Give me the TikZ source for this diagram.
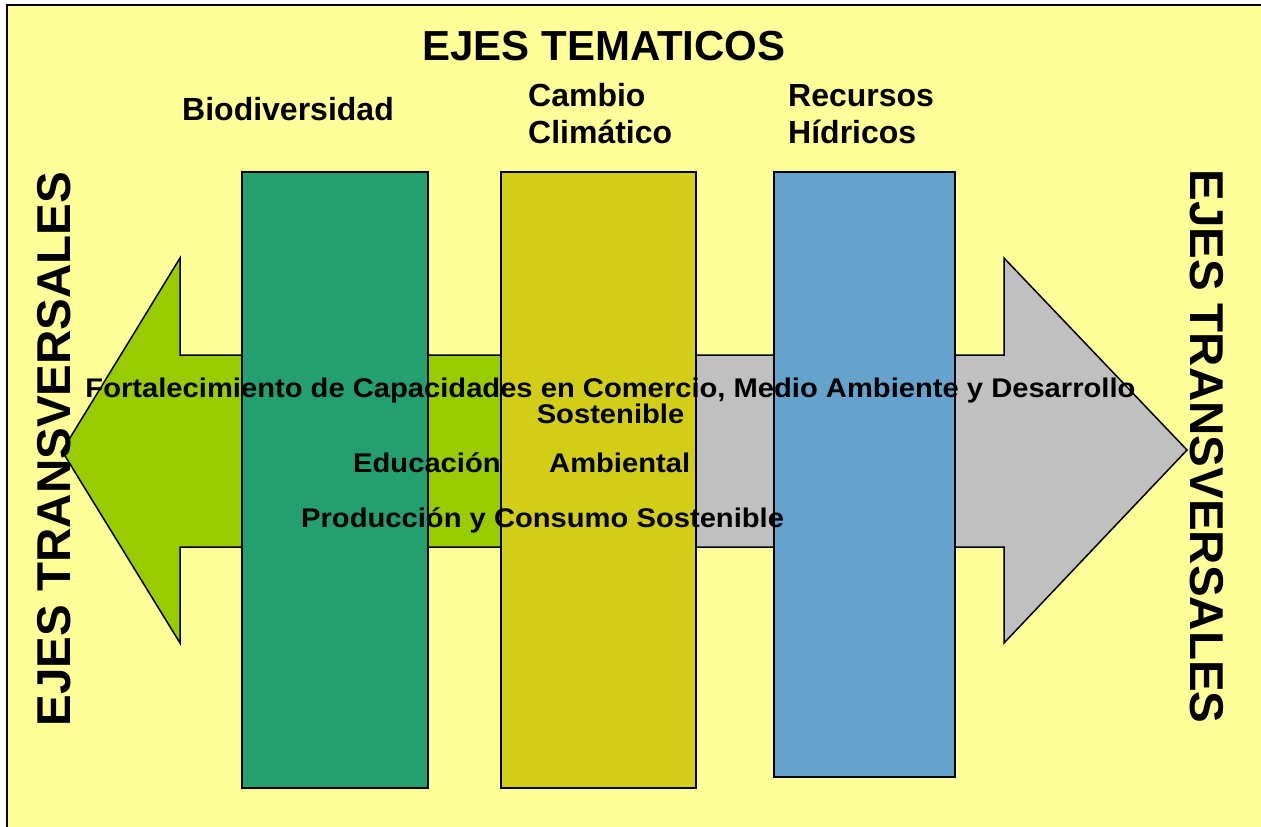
\documentclass[tikz,border=0pt]{standalone}
\usepackage{fontspec}
\setmainfont{Liberation Sans}
\definecolor{bgyellow}{HTML}{FFFF99}
\definecolor{arrgreen}{HTML}{99CC00}
\definecolor{arrgray}{HTML}{C0C0C0}
\definecolor{biogreen}{HTML}{24A070}
\definecolor{climolive}{HTML}{D2CD16}
\definecolor{hidroblue}{HTML}{66A3CC}
\newcommand\widetext[1]{\scalebox{1.08}[1]{#1}}
\tikzset{
  outl/.style={draw=black, line width=1.5pt, line join=miter},
  colbox/.style={draw=black, line width=1.6pt},
  lbl/.style={inner sep=0pt, text=black},
  fA/.style={font={\fontsize{42}{46}\selectfont\bfseries}},
  fB/.style={font={\fontsize{32}{37}\selectfont\bfseries}},
  fC/.style={font={\fontsize{27}{31}\selectfont\bfseries}},
  fD/.style={font={\fontsize{47.5}{52}\selectfont\bfseries}},
}
\begin{document}
\begin{tikzpicture}[x=1pt,y=-1pt]
\useasboundingbox (0,0) rectangle (1261,827);
% background
\fill[white] (0,0) rectangle (1261,827);
\fill[bgyellow] (7,5) rectangle (1261,827);
\draw[black, line width=2pt] (7,827) -- (7,5) -- (1261,5);
% double arrow, left part green, right part gray
\coordinate (ltip) at (62,451);
\coordinate (rtip) at (1187,450);
\filldraw[outl, fill=arrgreen] (ltip) -- (180,258) -- (180,355) -- (600,355) -- (600,547) -- (180,547) -- (180,643) -- cycle;
\filldraw[outl, fill=arrgray] (600,355) -- (1004,355) -- (1004,258) -- (rtip) -- (1004,643) -- (1004,547) -- (600,547) -- cycle;
% thematic columns
\node[colbox, fill=biogreen, minimum width=186pt, minimum height=616pt, anchor=north west, inner sep=0] (bio) at (241,171) {};
\node[colbox, fill=climolive, minimum width=195pt, minimum height=616pt, anchor=north west, inner sep=0] (clima) at (500,171) {};
\node[colbox, fill=hidroblue, minimum width=181pt, minimum height=605pt, anchor=north west, inner sep=0] (hidro) at (773,171) {};
% titles
\node[lbl, fA, anchor=base] (title) at (604,60) {EJES TEMATICOS};
\node[lbl, fB, anchor=base west] (tbio) at (182,120) {Biodiversidad};
\node[lbl, fB, anchor=base west] (tcl1) at (528,106) {Cambio};
\node[lbl, fB, anchor=base west] (tcl2) at (528,143) {Climático};
\node[lbl, fB, anchor=base west] (thi1) at (788,106) {Recursos};
\node[lbl, fB, anchor=base west] (thi2) at (788,143) {Hídricos};
% transversal axes texts
\node[lbl, fC, anchor=base] (fort) at (610.5,397) {\widetext{Fortalecimiento de Capacidades en Comercio, Medio Ambiente y Desarrollo}};
\node[lbl, fC, anchor=base] (sost) at (610.5,423) {\widetext{Sostenible}};
\node[lbl, fC, anchor=base west] (edu) at (353,472) {\widetext{Educación}};
\node[lbl, fC, anchor=base west] (amb) at (549,472) {\widetext{Ambiental}};
\node[lbl, fC, anchor=base west] (prod) at (301,527) {\widetext{Producción y Consumo Sostenible}};
% vertical labels
\node[lbl, fD, anchor=base, rotate=90] (leftlbl) at (70,449) {EJES TRANSVERSALES};
\node[lbl, fD, anchor=base, rotate=-90] (rightlbl) at (1190,446.5) {EJES TRANSVERSALES};
\end{tikzpicture}
\end{document}
